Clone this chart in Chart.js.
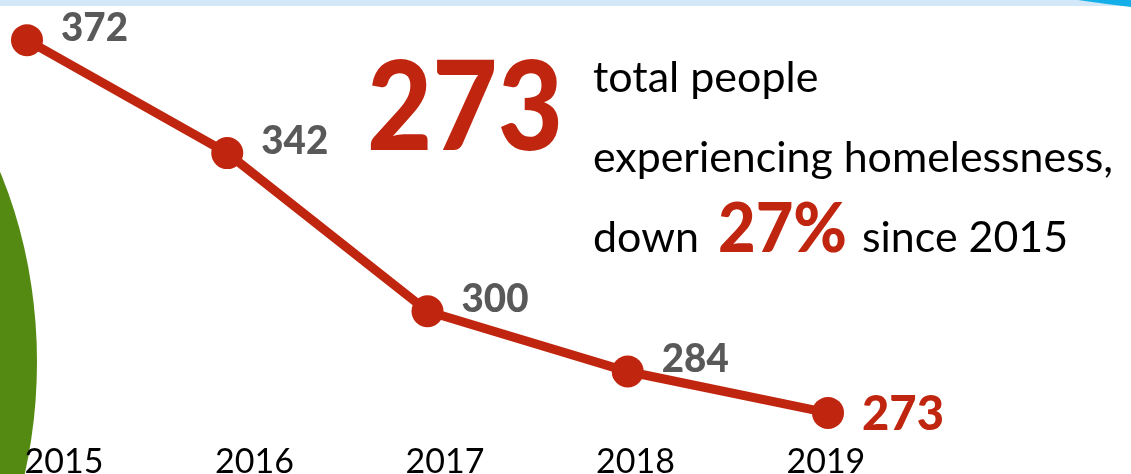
<!DOCTYPE html>
<html lang="en">
<head>
    <meta charset="UTF-8">
    <title>People experiencing homelessness</title>
    <style>
        body {
            margin: 0;
            background: #fff;
            overflow: hidden;
        }
        #wrap {
            width: 1131px;
            height: 474px;
        }
    </style>
</head>
<body>
    <div id="wrap">
        <canvas id="homeChart" width="1131" height="474"></canvas>
    </div>

    <script src="https://cdn.jsdelivr.net/npm/chart.js"></script>
    <script>
        // data
        const years = [2015, 2016, 2017, 2018, 2019];
        const totals = [372, 342, 300, 284, 273];
        const yearLabels = ['2015', '2016', '2017', '2018', '2019'];

        const red = '#c0260f';
        const grey = '#595959';
        const font = 'Lato, "Open Sans", sans-serif';

        // background shapes: blue band on top, green blob on the left
        const backdrop = {
            id: 'backdrop',
            beforeDraw(chart) {
                const c = chart.ctx;
                c.save();
                c.fillStyle = '#d2e8f9';
                c.fillRect(0, 0, chart.width, 6);
                c.fillStyle = '#14afe8';
                c.beginPath();
                c.moveTo(1078, 0);
                c.quadraticCurveTo(1105, 4, 1131, 7);
                c.lineTo(1131, 0);
                c.closePath();
                c.fill();
                c.fillStyle = '#548a12';
                c.beginPath();
                c.ellipse(-262, 362, 299, 395, 0, 0, Math.PI * 2);
                c.fill();
                c.restore();
            }
        };

        // value next to every point, last one in red
        const pointValues = {
            id: 'pointValues',
            afterDatasetsDraw(chart) {
                const c = chart.ctx;
                const pts = chart.getDatasetMeta(0).data;
                c.save();
                c.textAlign = 'left';
                c.textBaseline = 'middle';
                pts.forEach((p, i) => {
                    const last = i === pts.length - 1;
                    c.fillStyle = last ? red : grey;
                    c.font = (last ? '900 48px ' : '900 40px ') + font;
                    c.fillText(String(totals[i]), p.x + 34, last ? p.y + 2 : p.y - 12, last ? 82 : 67);
                });
                c.restore();
            }
        };

        // the headline text block
        const headline = {
            id: 'headline',
            afterDraw(chart) {
                const c = chart.ctx;
                const latest = totals[totals.length - 1];
                const drop = Math.round((totals[0] - latest) / totals[0] * 100);
                c.save();
                c.textAlign = 'left';
                c.textBaseline = 'alphabetic';
                c.fillStyle = red;
                c.font = '900 124px ' + font;
                c.fillText(String(latest), 367, 150, 196);
                c.fillStyle = '#000';
                c.font = '43px ' + font;
                c.fillText('total people', 593, 92, 232);
                c.fillText('experiencing homelessness,', 593, 172, 520);
                c.fillText('down', 593, 252, 106);
                c.fillStyle = red;
                c.font = '900 68px ' + font;
                c.fillText(drop + '%', 718, 252, 129);
                c.fillStyle = '#000';
                c.font = '43px ' + font;
                c.fillText('since ' + years[0], 862, 252, 206);
                c.restore();
            }
        };

        const ctx = document.getElementById('homeChart').getContext('2d');
        const homeChart = new Chart(ctx, {
            type: 'line',
            data: {
                labels: yearLabels,
                datasets: [{
                    data: totals,
                    borderColor: red,
                    backgroundColor: red,
                    borderWidth: 9,
                    pointRadius: 16,
                    pointHoverRadius: 16,
                    pointBackgroundColor: red,
                    pointBorderWidth: 0,
                    tension: 0,
                    clip: false
                }]
            },
            options: {
                responsive: false,
                animation: false,
                events: [],
                layout: {
                    autoPadding: false,
                    padding: { left: 27, right: 303, top: 10, bottom: -16 }
                },
                plugins: {
                    legend: { display: false },
                    tooltip: { enabled: false }
                },
                scales: {
                    x: {
                        type: 'category',
                        display: false
                    },
                    years: {
                        type: 'linear',
                        position: 'bottom',
                        axis: 'x',
                        min: 2014.806,
                        max: 2019.011,
                        grid: { display: false, drawTicks: false },
                        border: { display: false },
                        afterBuildTicks(axis) {
                            axis.ticks = years.map(v => ({ value: v }));
                        },
                        ticks: {
                            autoSkip: false,
                            maxRotation: 0,
                            padding: 20,
                            color: '#000',
                            font: { family: font, size: 34, lineHeight: 0.47 },
                            callback: (v) => String(v)
                        }
                    },
                    y: {
                        display: false,
                        min: 267.4,
                        max: 380
                    }
                }
            },
            plugins: [backdrop, pointValues, headline]
        });
    </script>
</body>
</html>
